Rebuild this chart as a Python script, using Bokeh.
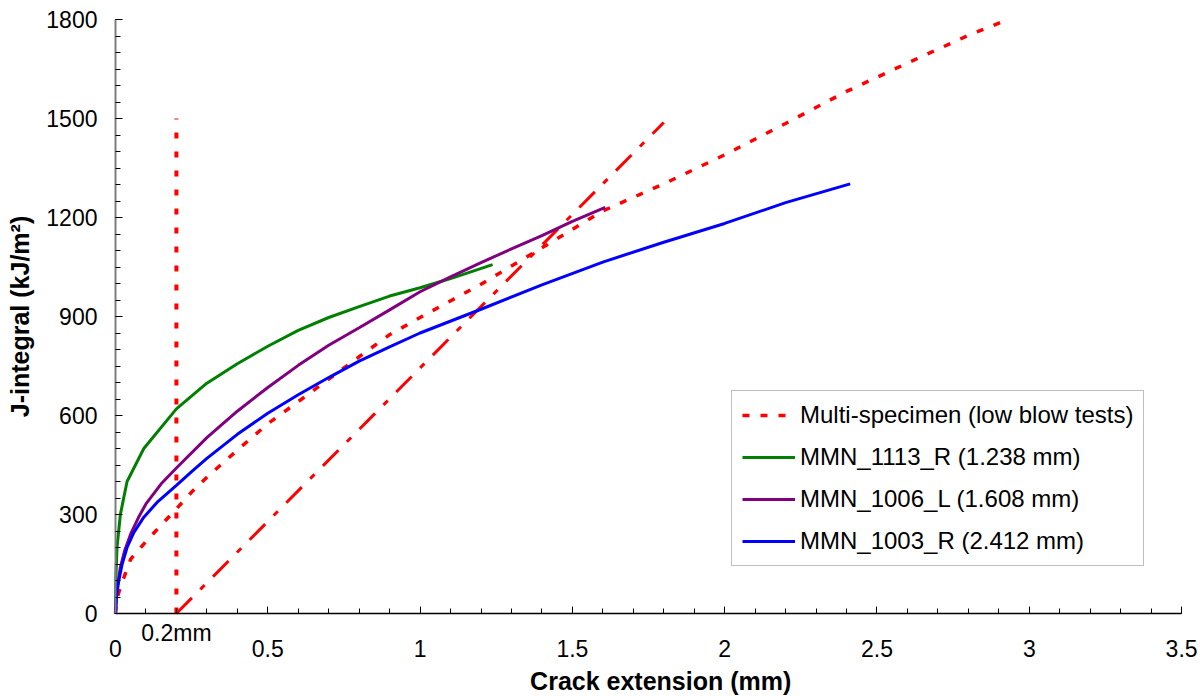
import math
from bokeh.plotting import figure
from bokeh.models import Range1d, FixedTicker, Legend, LegendItem, Label, LinearAxis
from bokeh.embed import file_html
from bokeh.resources import INLINE

# ---- data ----
multi_x = [0, 0.005, 0.016, 0.05, 0.1, 0.15, 0.2, 0.25, 0.3, 0.4, 0.5, 0.6, 0.7, 0.8,
           0.9, 1.0, 1.2, 1.4, 1.6, 1.8, 2.0, 2.2, 2.4, 2.6, 2.8, 2.93]
multi_j = [0, 45, 80, 165, 218, 268, 317, 368, 413, 495, 575, 642, 710, 778, 845, 897,
           998, 1108, 1220, 1302, 1390, 1485, 1582, 1668, 1752, 1800]

mmn1113_x = [0, 0.001, 0.005, 0.016, 0.038, 0.093, 0.2, 0.3, 0.4, 0.5, 0.6, 0.7, 0.8,
             0.9, 1.0, 1.1, 1.238]
mmn1113_j = [0, 100, 200, 300, 400, 500, 620, 698, 757, 810, 858, 897, 930, 962, 987,
             1015, 1057]

mmn1006_x = [0, 0.005, 0.016, 0.03, 0.05, 0.075, 0.1, 0.15, 0.2, 0.3, 0.4, 0.5, 0.6,
             0.7, 0.8, 0.9, 1.0, 1.1, 1.2, 1.3, 1.4, 1.5, 1.608]
mmn1006_j = [0, 75, 140, 190, 241, 290, 332, 393, 441, 533, 613, 685, 752, 813, 866,
             920, 975, 1020, 1063, 1105, 1145, 1188, 1231]

mmn1003_x = [0, 0.003, 0.011, 0.022, 0.038, 0.06, 0.093, 0.14, 0.2, 0.25, 0.3, 0.4, 0.5,
             0.6, 0.7, 0.8, 0.9, 1.0, 1.2, 1.4, 1.6, 1.8, 2.0, 2.2, 2.412]
mmn1003_j = [0, 50, 100, 150, 200, 245, 292, 340, 388, 430, 470, 543, 607, 663, 715, 765,
             808, 850, 922, 996, 1065, 1125, 1182, 1245, 1302]

offset_x = [0.2, 1.8]        # offset (blunting) line
offset_j = [0, 1488]
cut_x = [0.2, 0.2]           # 0.2 mm exclusion line
cut_j = [0, 1500]

x_ticks = [0, 0.5, 1, 1.5, 2, 2.5, 3, 3.5]
x_tick_labels = ["0", "0.5", "1", "1.5", "2", "2.5", "3", "3.5"]
x_minor = [i / 10 for i in range(0, 36)]
y_ticks = [0, 300, 600, 900, 1200, 1500, 1800]
y_minor = list(range(0, 1801, 50))

names = ["Multi-specimen (low blow tests)", "MMN_1113_R (1.238 mm)",
         "MMN_1006_L (1.608 mm)", "MMN_1003_R (2.412 mm)"]
x_title = "Crack extension (mm)"
y_title = "J-integral (kJ/m²)"

FONT = "Liberation Sans"

# The frame covers the whole page (so nothing outside the plot area gets clipped);
# the axes are pinned at x = 0 and J = 0 and bounded to the data area 0..3.5 x 0..1800.
p = figure(width=1200, height=696, output_backend="svg", toolbar_location=None,
           x_range=Range1d(-0.3775, 3.5621), y_range=Range1d(-251.5, 1857.6),
           x_axis_location=None, y_axis_location=None,
           min_border_left=0, min_border_right=0, min_border_top=0,
           min_border_bottom=0)
p.outline_line_color = None
p.xgrid.grid_line_color = None
p.ygrid.grid_line_color = None
p.background_fill_color = "white"
p.border_fill_color = "white"

# curves
r_multi = p.line(multi_x, multi_j, line_color="#ff0000", line_width=3.5, line_dash="7 11")
r_cut = p.line(cut_x, cut_j, line_color="#ff0000", line_width=4, line_dash="6 13")
r_off = p.line(offset_x, offset_j, line_color="#ff0000", line_width=3, line_dash="22 12 6 12")
r_g = p.line(mmn1113_x, mmn1113_j, line_color="#008000", line_width=3)
r_p = p.line(mmn1006_x, mmn1006_j, line_color="#800080", line_width=3)
r_b = p.line(mmn1003_x, mmn1003_j, line_color="#0000ff", line_width=3)

# axes
xa = LinearAxis(fixed_location=0)
p.add_layout(xa, "below")
xa.ticker = FixedTicker(ticks=x_ticks, minor_ticks=x_minor)
xa.major_label_overrides = {t: l for t, l in zip(x_ticks, x_tick_labels)}
xa.bounds = (0, 3.5)
ya = LinearAxis(fixed_location=0)
p.add_layout(ya, "left")
ya.ticker = FixedTicker(ticks=y_ticks, minor_ticks=y_minor)
ya.bounds = (0, 1800)

for ax in (xa, ya):
    ax.major_tick_in = 7
    ax.major_tick_out = 0
    ax.minor_tick_in = 5
    ax.minor_tick_out = 0
    ax.major_tick_line_color = "black"
    ax.minor_tick_line_color = "black"
    ax.major_label_text_font = FONT
    ax.major_label_text_font_size = "23px"
    ax.major_label_text_color = "black"
xa.axis_line_color = "black"
xa.axis_line_width = 1.5
ya.axis_line_color = "#7f7f7f"
ya.axis_line_width = 2
xa.major_label_standoff = 26
ya.major_label_standoff = 18

# axis titles
p.add_layout(Label(x=1.79, y=0, text=x_title, text_align="center",
                   text_baseline="middle", y_offset=-67, text_font=FONT,
                   text_font_size="25px", text_font_style="bold", text_color="black"))
p.add_layout(Label(x=0, y=900, text=y_title, text_align="center",
                   text_baseline="middle", x_offset=-95, angle=math.pi / 2,
                   text_font=FONT, text_font_size="25px", text_font_style="bold",
                   text_color="black"))

# 0.2mm annotation
p.add_layout(Label(x=0.2, y=0, text="0.2mm", text_align="center", text_baseline="top",
                   y_offset=-6, text_font=FONT, text_font_size="23px",
                   text_color="black"))

legend = Legend(items=[LegendItem(label=names[0], renderers=[r_multi]),
                       LegendItem(label=names[1], renderers=[r_g]),
                       LegendItem(label=names[2], renderers=[r_p]),
                       LegendItem(label=names[3], renderers=[r_b])],
                location=(731, 130))
legend.border_line_color = "#7f7f7f"
legend.border_line_width = 1
legend.background_fill_color = "white"
legend.background_fill_alpha = 1
legend.label_text_font = FONT
legend.label_text_font_size = "24px"
legend.label_text_color = "black"
legend.glyph_width = 53
legend.glyph_height = 24
legend.label_height = 24
legend.label_standoff = 5
legend.spacing = 14
legend.padding = 10
legend.margin = 0
p.add_layout(legend, "center")

open("out.html", "w").write(file_html(p, INLINE))
